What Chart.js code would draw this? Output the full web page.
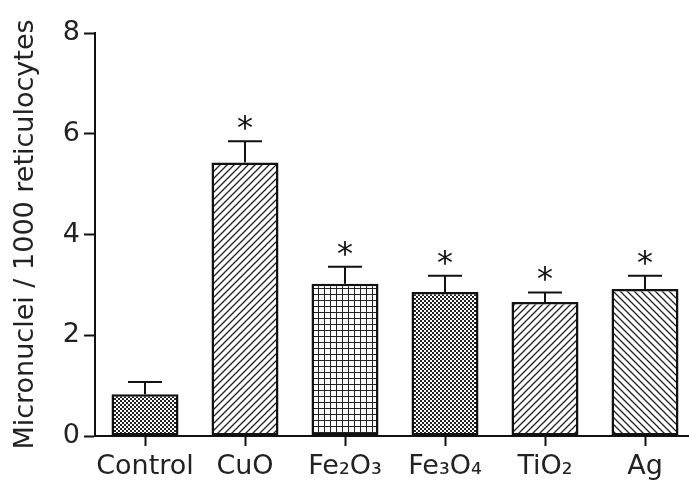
<!DOCTYPE html>
<html>
<head>
<meta charset="utf-8">
<script src="https://cdn.jsdelivr.net/npm/chart.js@4"></script>
<style>
  html, body { margin: 0; padding: 0; overflow: hidden; background: #fff; }
  #wrap { width: 700px; height: 482px; }
</style>
</head>
<body>
<div id="wrap"><canvas id="mnChart" width="700" height="482"></canvas></div>
<script>
const categories = ['Control', 'CuO', 'Fe₂O₃', 'Fe₃O₄', 'TiO₂', 'Ag'];
const means = [0.83, 5.43, 3.02, 2.86, 2.66, 2.92];
const errors = [0.24, 0.42, 0.34, 0.32, 0.19, 0.26];
const significant = [false, true, true, true, true, true];
const yTicks = [0, 2, 4, 6, 8];
const hatches = ['checker', 'forward', 'grid', 'checker', 'forward', 'back'];

const FONT = 'DejaVu Sans';

function makePattern(kind) {
  const tile = document.createElement('canvas');
  const s = kind === 'checker' ? 4 : (kind === 'grid' ? 6 : 7);
  tile.width = s;
  tile.height = s;
  const c = tile.getContext('2d');
  c.fillStyle = '#fff';
  c.fillRect(0, 0, s, s);
  c.fillStyle = '#222';
  c.strokeStyle = '#222';
  if (kind === 'checker') {
    c.fillRect(0, 0, 2, 2);
    c.fillRect(2, 2, 2, 2);
  } else if (kind === 'grid') {
    c.fillRect(0, 0, s, 1);
    c.fillRect(0, 0, 1, s);
  } else {
    c.lineWidth = 1.3;
    c.beginPath();
    if (kind === 'forward') {
      c.moveTo(0, s); c.lineTo(s, 0);
      c.moveTo(-1, 1); c.lineTo(1, -1);
      c.moveTo(s - 1, s + 1); c.lineTo(s + 1, s - 1);
    } else {
      c.moveTo(0, 0); c.lineTo(s, s);
      c.moveTo(-1, s - 1); c.lineTo(1, s + 1);
      c.moveTo(s - 1, -1); c.lineTo(s + 1, 1);
    }
    c.stroke();
  }
  return c.createPattern(tile, 'repeat');
}

const ctx = document.getElementById('mnChart').getContext('2d');

// error bars and significance stars, placed through the chart's scales
const errorBars = {
  id: 'errorBars',
  afterDatasetsDraw(chart) {
    const { ctx, scales: { x, y } } = chart;
    ctx.save();
    ctx.strokeStyle = '#111';
    ctx.lineWidth = 2;
    ctx.fillStyle = '#111';
    ctx.font = '32px "' + FONT + '"';
    ctx.textAlign = 'center';
    ctx.textBaseline = 'alphabetic';
    means.forEach((m, i) => {
      const cx = x.getPixelForValue(i);
      const yBar = y.getPixelForValue(m);
      const yCap = y.getPixelForValue(m + errors[i]);
      ctx.beginPath();
      ctx.moveTo(cx, yBar);
      ctx.lineTo(cx, yCap);
      ctx.moveTo(cx - 17, yCap);
      ctx.lineTo(cx + 17, yCap);
      ctx.stroke();
      if (significant[i]) {
        ctx.fillText('*', cx, yCap - 3);
      }
    });
    ctx.restore();
  }
};

new Chart(ctx, {
  type: 'bar',
  data: {
    labels: categories,
    datasets: [{
      data: means,
      backgroundColor: hatches.map(makePattern),
      borderColor: '#111',
      borderWidth: 2.5,
      borderSkipped: false,
      barPercentage: 0.67,
      categoryPercentage: 1
    }]
  },
  options: {
    responsive: false,
    animation: false,
    layout: { padding: { top: 33, right: 5, left: 0, bottom: 0 } },
    plugins: {
      legend: { display: false },
      tooltip: { enabled: false }
    },
    scales: {
      x: {
        grid: {
          offset: false,
          drawOnChartArea: false,
          tickLength: 10,
          tickWidth: 2,
          tickColor: '#111'
        },
        border: { color: '#111', width: 2 },
        ticks: {
          color: '#222',
          padding: 5,
          autoSkip: false,
          maxRotation: 0,
          font: { family: FONT, size: 27 }
        },
        afterFit(scale) { scale.height = 46; }
      },
      y: {
        min: 0,
        max: 8,
        afterBuildTicks(scale) {
          scale.ticks = yTicks.map(v => ({ value: v }));
        },
        grid: {
          drawOnChartArea: false,
          tickLength: 11,
          tickWidth: 2,
          tickColor: '#111'
        },
        border: { color: '#111', width: 2 },
        ticks: {
          color: '#222',
          padding: 4,
          font: { family: FONT, size: 27 }
        },
        title: {
          display: true,
          text: 'Micronuclei / 1000 reticulocytes',
          color: '#222',
          padding: { top: 10, bottom: 0 },
          font: { family: FONT, size: 27, weight: 'normal' }
        },
        afterFit(scale) { scale.width = 95; }
      }
    }
  },
  plugins: [errorBars]
});
</script>
</body>
</html>
